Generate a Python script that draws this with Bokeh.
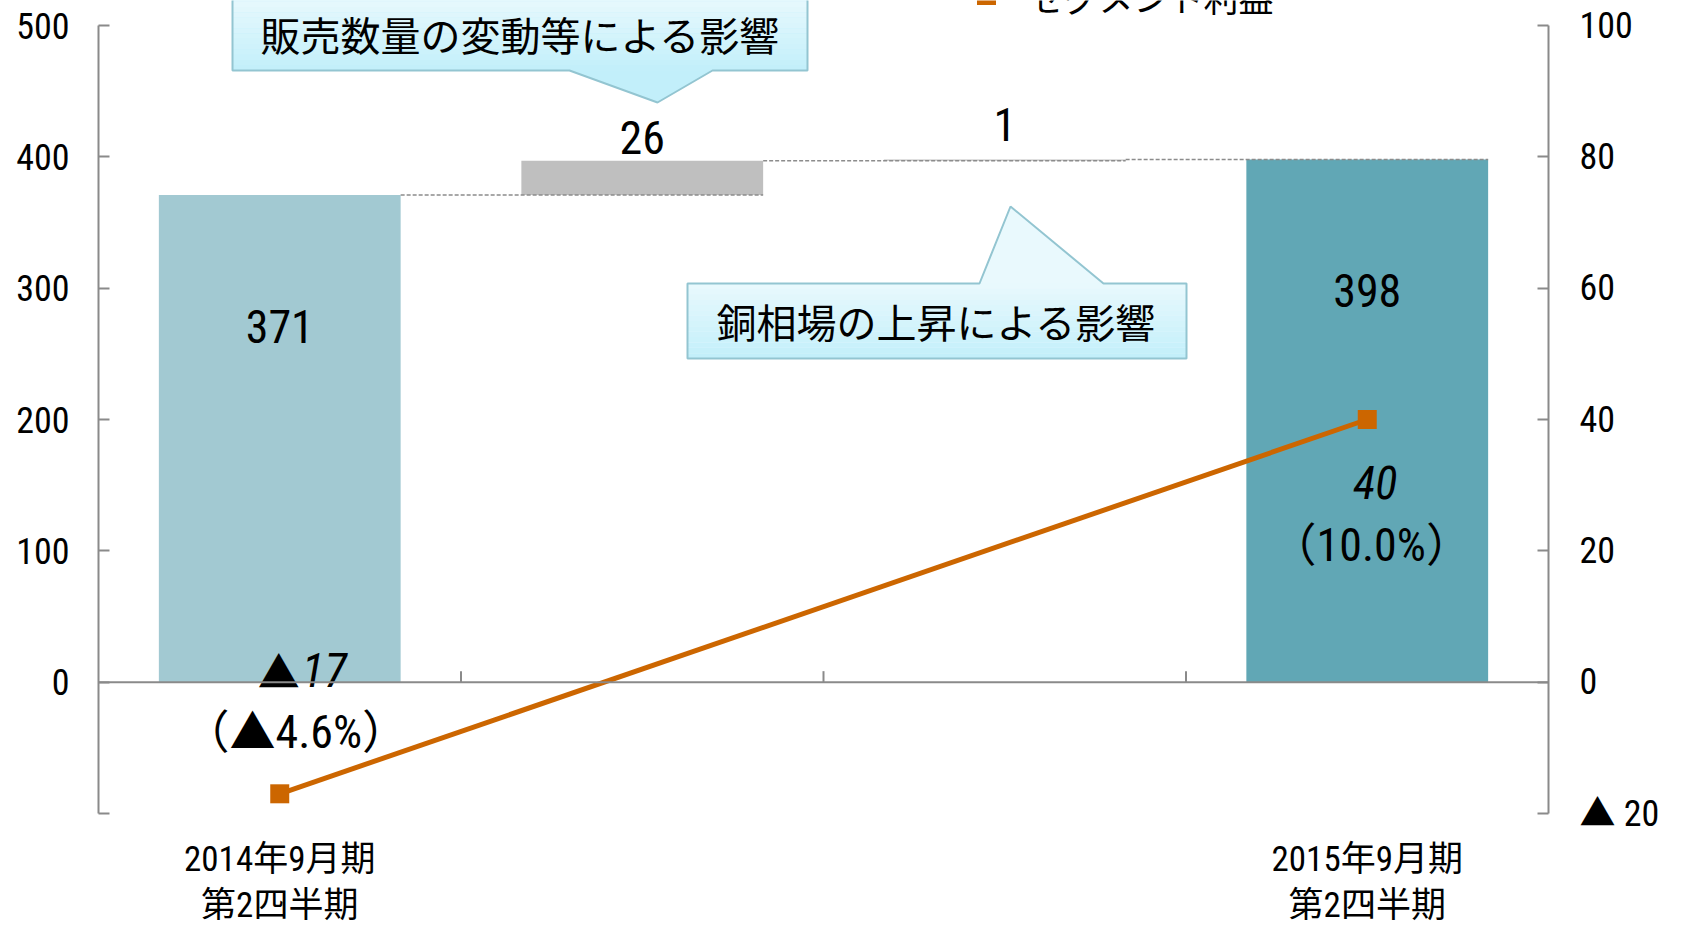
from bokeh.plotting import figure
from bokeh.models import Range1d, LinearAxis, FixedTicker, Span
from bokeh.core.properties import value
from bokeh.embed import file_html
from bokeh.resources import INLINE

# ---------------- data ----------------
categories = ["2014年9月期\n第2四半期", "販売数量の変動等による影響",
              "銅相場の上昇による影響", "2015年9月期\n第2四半期"]
sales_steps = [371, 26, 1, 398]
step_kind = ["total", "delta", "delta", "total"]
profit_cats = [0, 3]
profit_values = [-17, 40]
profit_labels = ["▲17", "40"]
margin_labels = ["（▲4.6%）", "（10.0%）"]
left_ticks = [-100, 0, 100, 200, 300, 400, 500]
right_ticks = [-20, 0, 20, 40, 60, 80, 100]
right_tick_overrides = {-20: "▲ 20"}
legend_text = "セグメント利益"

# ---------------- layout / style ----------------
W, H = 1669, 928
FL, FR = 98, 1548          # frame left / right (px)
AX_TOP, AX_BOT = 25, 813   # pixel rows of the top and bottom ticks
L_MIN, L_MAX = left_ticks[0], left_ticks[-1]
R_MIN, R_MAX = right_ticks[0], right_ticks[-1]
ppu = (AX_BOT - AX_TOP) / (L_MAX - L_MIN)
ppu_r = (AX_BOT - AX_TOP) / (R_MAX - R_MIN)
n = len(categories)
ppx = (FR - FL) / n

NUM_FONT = "Roboto Condensed, Noto Sans CJK JP"
JP_FONT = "Noto Sans CJK JP"
AXIS_GRAY = "#8A8A8A"
BAR_COLORS = ["#A2C9D2", "#BFBFBF", "#BFBFBF", "#61A7B5"]
ORANGE = "#CC6600"
CALLOUT_TOP = "#E9F9FD"
CALLOUT_BOTTOM = "#C2EFFA"
CALLOUT_LINE = "#93C5D1"
BAR_W = 0.667


def px_x(x):
    return (x - FL) / ppx


def px_y(y):
    return L_MAX - (y - AX_TOP) / ppu


p = figure(width=W, height=H,
           x_range=Range1d(0, n),
           y_range=Range1d(L_MIN - (H - AX_BOT) / ppu, L_MAX + AX_TOP / ppu),
           output_backend="svg", toolbar_location=None,
           x_axis_location=None, y_axis_location="left",
           min_border_left=FL, min_border_right=W - FR,
           min_border_top=0, min_border_bottom=0)
p.extra_y_ranges = {"right": Range1d(R_MIN - (H - AX_BOT) / ppu_r, R_MAX + AX_TOP / ppu_r)}
p.outline_line_color = None
p.background_fill_color = "white"
p.border_fill_color = "white"
for g in p.grid:
    g.visible = False


def style_axis(ax, standoff):
    ax.axis_line_color = AXIS_GRAY
    ax.axis_line_width = 2
    ax.major_tick_line_color = AXIS_GRAY
    ax.major_tick_line_width = 2
    ax.major_tick_in = 11
    ax.major_tick_out = 0
    ax.minor_tick_line_color = None
    ax.major_label_standoff = standoff
    ax.major_label_text_font = NUM_FONT
    ax.major_label_text_font_size = "36px"
    ax.major_label_text_color = "black"


left = p.left[0]
left.ticker = FixedTicker(ticks=left_ticks)
left.bounds = (L_MIN, L_MAX)
left.major_label_overrides = {L_MIN: ""}
style_axis(left, 29)

right = LinearAxis(y_range_name="right", ticker=FixedTicker(ticks=right_ticks),
                   bounds=(R_MIN, R_MAX), major_label_overrides=right_tick_overrides)
style_axis(right, 31)
p.add_layout(right, "right")

# zero line + category boundary ticks
p.add_layout(Span(location=0, dimension="width", line_color=AXIS_GRAY, line_width=2))
bx = list(range(1, n))
p.segment(x0=bx, y0=[0] * len(bx), x1=bx, y1=[11 / ppu] * len(bx),
          line_color=AXIS_GRAY, line_width=2)

# waterfall bars
xc = [i + 0.5 for i in range(n)]
bottoms, tops = [], []
cum = 0
for v, k in zip(sales_steps, step_kind):
    if k == "total":
        b, t = 0, v
    else:
        b, t = cum, cum + v
    cum = t
    bottoms.append(b)
    tops.append(t)

p.vbar(x=xc, width=BAR_W, bottom=bottoms, top=tops, fill_color=BAR_COLORS, line_color=None)

# dashed connectors
cx0 = [i - 0.5 + BAR_W / 2 for i in range(1, n)]
cx1 = [i + 0.5 + BAR_W / 2 for i in range(1, n)]
cy = [tops[i - 1] for i in range(1, n)]
p.segment(x0=cx0, y0=cy, x1=cx1, y1=cy, line_color="#8C8C8C", line_width=1.5, line_dash="4 2")

# bar value labels
lift_px = {1: 23, 2: 35}
for i in range(n):
    if step_kind[i] == "total":
        y = tops[i] - 100
    else:
        y = tops[i] + lift_px[i] / ppu
    p.text(x=[xc[i]], y=[y], text=[str(sales_steps[i])], text_align="center",
           text_baseline="middle", text_font=value(NUM_FONT),
           text_font_size=value("46px"), text_color="black")

# segment profit line
lx = [xc[c] for c in profit_cats]
p.line(x=lx, y=profit_values, y_range_name="right", line_color=ORANGE, line_width=5)
p.scatter(x=lx, y=profit_values, y_range_name="right", marker="square", size=19,
          fill_color=ORANGE, line_color=None)

for xv, yv, lab, mlab in zip(lx, profit_values, profit_labels, margin_labels):
    if yv < 0:
        dx, d1, d2 = 20, -124, -62
    else:
        dx, d1, d2 = 8, 63, 125
    xx = xv + dx / ppx
    y1 = yv - d1 / ppu_r
    if lab.startswith("▲"):
        # upright triangle followed by the italic number
        p.text(x=[xx], y=[y1], text=["▲"], y_range_name="right",
               text_align="right", text_baseline="middle", text_font=value(JP_FONT),
               text_font_size=value("42px"), text_color="black")
        p.text(x=[xx + 2 / ppx], y=[y1], text=[lab[1:]], y_range_name="right",
               text_align="left", text_baseline="middle", text_font=value(NUM_FONT),
               text_font_size=value("47px"), text_font_style="italic", text_color="black")
    else:
        p.text(x=[xx], y=[y1], text=[lab], y_range_name="right",
               text_align="center", text_baseline="middle", text_font=value(NUM_FONT),
               text_font_size=value("46px"), text_font_style="italic", text_color="black")
    p.text(x=[xx - 4 / ppx], y=[yv - d2 / ppu_r], text=[mlab], y_range_name="right",
           text_align="center", text_baseline="middle", text_font=value(NUM_FONT),
           text_font_size=value("46px"), text_color="black")


# callouts with a vertical gradient
def hexmix(c1, c2, t):
    a = [int(c1[i:i + 2], 16) for i in (1, 3, 5)]
    b = [int(c2[i:i + 2], 16) for i in (1, 3, 5)]
    return "#" + "".join("%02x" % round(a[k] + (b[k] - a[k]) * t) for k in range(3))


def callout(box, ptr, pointer_below):
    (bx0, by0, bx1, by1) = box            # px: left, top, right, bottom
    (pl, pr, ax_, ay_) = ptr               # pointer base left/right x, apex
    if pointer_below:
        xs = [bx0, bx1, bx1, pr, ax_, pl, bx0]
        ys = [by0, by0, by1, by1, ay_, by1, by1]
        ptr_col = CALLOUT_BOTTOM
    else:
        xs = [bx0, bx1, bx1, pr, ax_, pl, bx0]
        ys = [by1, by1, by0, by0, ay_, by0, by0]
        ptr_col = CALLOUT_TOP
    dx = [px_x(v) for v in xs]
    dy = [px_y(v) for v in ys]
    p.patch(x=dx, y=dy, fill_color=ptr_col, line_color=None)
    nb = 14
    qt, qb, qc = [], [], []
    for k in range(nb):
        t0 = by0 + (by1 - by0) * k / nb
        t1 = by0 + (by1 - by0) * (k + 1) / nb
        qt.append(px_y(t0))
        qb.append(px_y(t1))
        qc.append(hexmix(CALLOUT_TOP, CALLOUT_BOTTOM, (k + 0.5) / nb))
    p.quad(left=[px_x(bx0)] * nb, right=[px_x(bx1)] * nb, top=qt, bottom=qb,
           fill_color=qc, line_color=None)
    p.patch(x=dx, y=dy, fill_color=None, line_color=CALLOUT_LINE, line_width=2)


callout((232, -4, 807, 70), (569, 712, 657, 102), True)
callout((687, 283, 1186, 358), (979, 1103, 1010, 206), False)
p.text(x=[px_x(520), px_x(936)], y=[px_y(33), px_y(320)], text=[categories[1], categories[2]],
       text_align="center", text_baseline="middle", text_font=value(JP_FONT),
       text_font_size=value("40px"), text_color="black")

# legend (cut off at the top in the original)
p.scatter(x=[px_x(986)], y=[px_y(-5)], marker="square", size=19, fill_color=ORANGE, line_color=None)
p.text(x=[px_x(1028)], y=[px_y(-4)], text=[legend_text], text_align="left",
       text_baseline="middle", text_font=value(JP_FONT), text_font_size=value("35px"),
       text_color="black")

# category labels under the plot
for i in range(n):
    if step_kind[i] != "total":
        continue
    for j, line in enumerate(categories[i].split("\n")):
        p.text(x=[xc[i]], y=[px_y(859 + 46 * j)], text=[line],
               text_align="center", text_baseline="middle",
               text_font=value(NUM_FONT), text_font_size=value("35px"), text_color="black")

open("out.html", "w").write(file_html(p, INLINE))
